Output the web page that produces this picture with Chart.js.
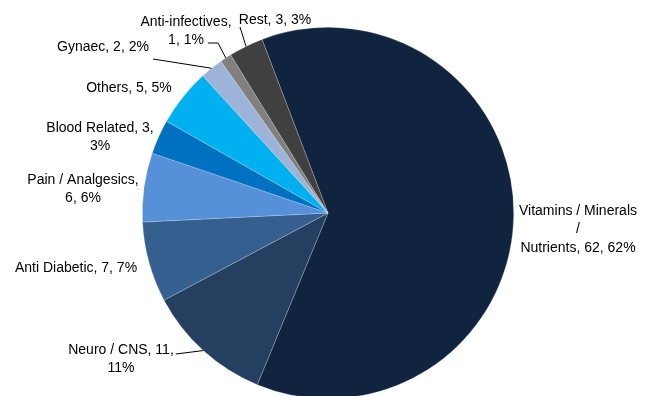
<!DOCTYPE html>
<html>
<head>
<meta charset="utf-8">
<script src="https://cdn.jsdelivr.net/npm/chart.js@4"></script>
<style>
  html, body { margin: 0; padding: 0; background: #fff; overflow: hidden; }
  #wrap { position: absolute; left: 0; top: 0; width: 651px; height: 420px; }
</style>
</head>
<body>
<div id="wrap"><canvas id="myChart"></canvas></div>
<script>
// categories, clockwise from the top
const categorias = ['Vitamins / Minerals / Nutrients', 'Neuro / CNS', 'Anti Diabetic', 'Pain / Analgesics',
  'Blood Related', 'Others', 'Gynaec', 'Anti-infectives', 'Rest'];
const valores = [62, 11, 7, 6, 3, 5, 2, 1, 3];
const porcentajes = ['62%', '11%', '7%', '6%', '3%', '5%', '2%', '1%', '3%'];
const colores = ['#10243f', '#253f60', '#355f8f', '#5590d9', '#0070c0', '#00b0f0', '#9db3d8', '#808080', '#404040'];

// where each label block sits (centre x, first line y), its wrap width (or fixed word breaks)
// and its leader line, if any
const etiquetas = [
  { x: 578, y: 211, cortes: [3, 4], linea: null },
  { x: 121, y: 350, ancho: 123, linea: [[176, 354]] },
  { x: 76, y: 268, ancho: 123, linea: null },
  { x: 83, y: 180, ancho: 123, linea: null },
  { x: 100, y: 128, ancho: 123, linea: null },
  { x: 129, y: 88, ancho: 123, linea: null },
  { x: 103, y: 47, ancho: 123, linea: [[153, 59]] },
  { x: 186, y: 22, ancho: 105, linea: [[208, 43], [218, 43]] },
  { x: 275, y: 20, ancho: 123, linea: [[240, 27]] }
];

const altoLinea = 18.5;

function partirTexto(ctx, texto, e) {
  const palabras = texto.split(' ');
  const lineas = [];
  let actual = '';
  palabras.forEach((p, j) => {
    const prueba = actual ? actual + ' ' + p : p;
    const corta = e.cortes ? e.cortes.includes(j) : ctx.measureText(prueba).width > e.ancho;
    if (actual && corta) {
      lineas.push(actual);
      actual = p;
    } else {
      actual = prueba;
    }
  });
  if (actual) lineas.push(actual);
  return lineas;
}

const pluginEtiquetas = {
  id: 'etiquetas',
  afterDatasetsDraw(chart) {
    const ctx = chart.ctx;
    const meta = chart.getDatasetMeta(0);
    ctx.save();
    ctx.font = '14px "Liberation Sans", Arial, sans-serif';
    ctx.fillStyle = '#000';
    ctx.strokeStyle = '#000';
    ctx.lineWidth = 1;
    ctx.textAlign = 'center';
    ctx.textBaseline = 'middle';
    meta.data.forEach((arc, i) => {
      const p = arc.getProps(['x', 'y', 'startAngle', 'endAngle', 'outerRadius'], true);
      const medio = (p.startAngle + p.endAngle) / 2;
      const borde = [p.x + Math.cos(medio) * p.outerRadius, p.y + Math.sin(medio) * p.outerRadius];
      const e = etiquetas[i];
      if (e.linea) {
        ctx.beginPath();
        ctx.moveTo(e.linea[0][0], e.linea[0][1]);
        e.linea.slice(1).forEach(pt => ctx.lineTo(pt[0], pt[1]));
        ctx.lineTo(borde[0], borde[1]);
        ctx.stroke();
      }
      const texto = categorias[i] + ', ' + valores[i] + ', ' + porcentajes[i];
      partirTexto(ctx, texto, e).forEach((l, k) => {
        ctx.fillText(l, e.x, e.y + k * altoLinea);
      });
    });
    ctx.restore();
  }
};

const data = {
  labels: categorias,
  datasets: [{
    data: valores,
    backgroundColor: colores,
    borderColor: 'rgba(255,255,255,0.35)',
    borderWidth: 0.6
  }]
};

const myChart = new Chart('myChart', {
  type: 'pie',
  data: data,
  options: {
    responsive: true,
    maintainAspectRatio: false,
    animation: false,
    rotation: -20.8,
    layout: { padding: { left: 142, right: 137, top: 27, bottom: 21 } },
    plugins: {
      legend: { display: false },
      tooltip: { enabled: false }
    }
  },
  plugins: [pluginEtiquetas]
});
</script>
</body>
</html>
